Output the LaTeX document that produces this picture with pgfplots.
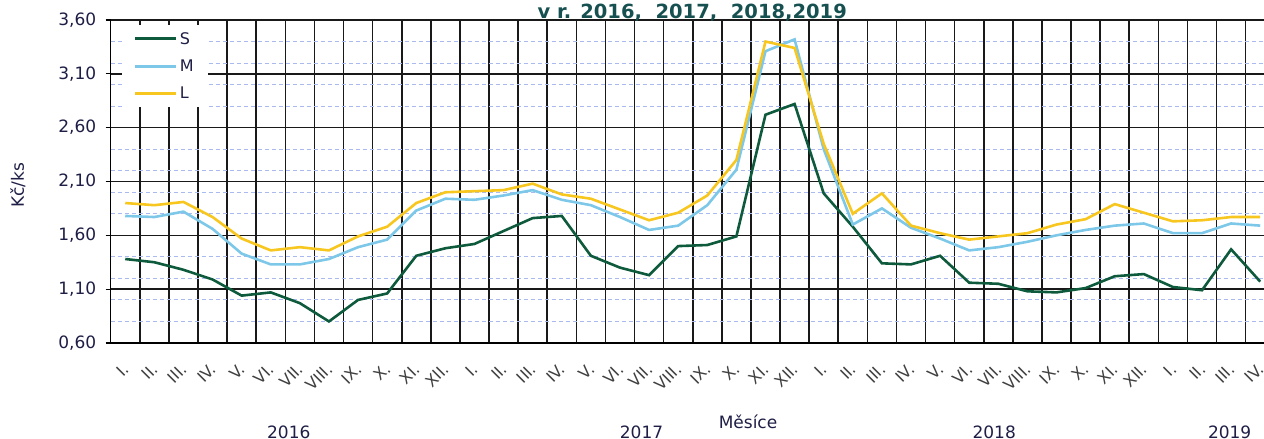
\documentclass[border=0pt]{standalone}
\usepackage{fontspec}
\setmainfont{DejaVu Sans}
\usepackage{pgfplots}
\pgfplotsset{compat=1.18}
\definecolor{cS}{RGB}{14,90,60}
\definecolor{cM}{RGB}{125,200,232}
\definecolor{cL}{RGB}{247,199,32}
\definecolor{cgrid}{RGB}{170,185,240}
\definecolor{ctxt}{RGB}{30,30,70}
\definecolor{ctitle}{RGB}{23,80,80}
\begin{document}
\begin{tikzpicture}
\begin{axis}[
  scale only axis, width=1153.3bp, height=323bp,
  xmin=-0.5, xmax=39.13, ymin=0.6, ymax=3.6,
  clip=false,
  axis y line*=left, axis x line*=bottom,
  axis line style={black, line width=1.6bp},
  xtick={0,...,39},
  xticklabels={I.,II.,III.,IV.,V.,VI.,VII.,VIII.,IX.,X.,XI.,XII.,I.,II.,III.,IV.,V.,VI.,VII.,VIII.,IX.,X.,XI.,XII.,I.,II.,III.,IV.,V.,VI.,VII.,VIII.,IX.,X.,XI.,XII.,I.,II.,III.,IV.},
  xtick style={draw=none},
  xticklabel style={rotate=45, anchor=north east, font=\fontsize{16bp}{19bp}\selectfont, text=black!75, xshift=-9bp, yshift=-4bp},
  minor xtick={-0.5,0.5,...,38.5},
  xminorgrids,
  minor grid style={black!90, line width=1.6bp},
  minor tick length=0pt,
  ytick={0.6,1.1,1.6,2.1,2.6,3.1,3.6},
  ymajorgrids,
  major grid style={black!90, line width=1.6bp},
  ytick style={black, line width=1.2bp},
  tick align=outside, major tick length=5bp,
  extra y ticks={0.8,1.0,1.2,1.4,1.8,2.0,2.2,2.4,2.8,3.0,3.2,3.4},
  extra y tick labels={},
  extra y tick style={grid=major, major grid style={cgrid, line width=1bp, dash pattern=on 4bp off 3bp}, ytick style={draw=none}},
  yticklabel style={/pgf/number format/fixed, /pgf/number format/fixed zerofill, /pgf/number format/precision=2, /pgf/number format/use comma, /pgf/number format/assume math mode=true, font=\fontsize{17bp}{20bp}\selectfont, text=ctxt, xshift=-6bp},
  legend style={at={(0,1)}, anchor=north west, xshift=11bp, yshift=-5bp, draw=none, fill=white,
    font=\fontsize{16bp}{19bp}\selectfont, text=ctxt, row sep=10bp, inner xsep=12bp, inner ysep=5bp},
  legend cell align=left,
  legend image code/.code={\draw[#1, line width=3bp] (0bp,0bp) -- (41bp,0bp);},
]
\addplot[cS, line width=2.6bp] coordinates {
(0,1.38)(1,1.35)(2,1.28)(3,1.19)(4,1.04)(5,1.07)(6,0.97)(7,0.80)(8,1.00)(9,1.06)(10,1.41)(11,1.48)
(12,1.52)(13,1.64)(14,1.76)(15,1.78)(16,1.41)(17,1.30)(18,1.23)(19,1.50)(20,1.51)(21,1.59)(22,2.72)(23,2.82)
(24,1.99)(25,1.68)(26,1.34)(27,1.33)(28,1.41)(29,1.16)(30,1.15)(31,1.08)(32,1.07)(33,1.11)(34,1.22)(35,1.24)
(36,1.12)(37,1.09)(38,1.47)(39,1.17)};
\addlegendentry{S}
\addplot[cM, line width=2.6bp] coordinates {
(0,1.78)(1,1.77)(2,1.82)(3,1.66)(4,1.43)(5,1.33)(6,1.33)(7,1.38)(8,1.49)(9,1.56)(10,1.83)(11,1.94)
(12,1.93)(13,1.97)(14,2.02)(15,1.93)(16,1.88)(17,1.77)(18,1.65)(19,1.69)(20,1.88)(21,2.21)(22,3.31)(23,3.42)
(24,2.40)(25,1.70)(26,1.85)(27,1.67)(28,1.57)(29,1.46)(30,1.49)(31,1.54)(32,1.60)(33,1.65)(34,1.69)(35,1.71)
(36,1.62)(37,1.62)(38,1.71)(39,1.69)};
\addlegendentry{M}
\addplot[cL, line width=2.6bp] coordinates {
(0,1.90)(1,1.88)(2,1.91)(3,1.77)(4,1.57)(5,1.46)(6,1.49)(7,1.46)(8,1.59)(9,1.68)(10,1.90)(11,2.00)
(12,2.01)(13,2.02)(14,2.08)(15,1.98)(16,1.94)(17,1.84)(18,1.74)(19,1.81)(20,1.97)(21,2.30)(22,3.40)(23,3.34)
(24,2.45)(25,1.80)(26,1.99)(27,1.69)(28,1.62)(29,1.56)(30,1.59)(31,1.62)(32,1.70)(33,1.75)(34,1.89)(35,1.81)
(36,1.73)(37,1.74)(38,1.77)(39,1.77)};
\addlegendentry{L}
\node[font=\fontsize{17bp}{20bp}\selectfont, text=ctxt] at (axis cs:5.62,-0.226) {2016};
\node[font=\fontsize{17bp}{20bp}\selectfont, text=ctxt] at (axis cs:17.74,-0.226) {2017};
\node[font=\fontsize{17bp}{20bp}\selectfont, text=ctxt] at (axis cs:29.86,-0.226) {2018};
\node[font=\fontsize{17bp}{20bp}\selectfont, text=ctxt] at (axis cs:37.95,-0.226) {2019};
\node[font=\fontsize{17bp}{20bp}\selectfont, text=ctxt] at (axis cs:21.4,-0.133) {Měsíce};
\node[font=\fontsize{17bp}{20bp}\selectfont, text=ctxt, rotate=90] at (axis cs:-3.69,2.067) {Kč/ks};
\node[font=\bfseries\fontsize{19.5bp}{22bp}\selectfont, text=ctitle, anchor=north] at (axis cs:19.48,3.785) {v r. 2016,\ \ 2017,\ \ 2018,2019};
\end{axis}
\pgfresetboundingbox
\path ([xshift=-110.7bp,yshift=-96bp]current axis.south west) rectangle ([yshift=20bp]current axis.north east);
\end{tikzpicture}
\end{document}
